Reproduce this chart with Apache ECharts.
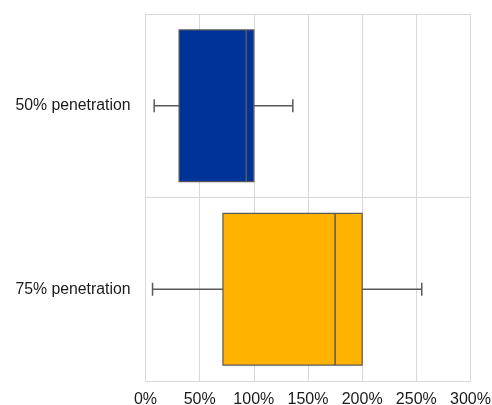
<!DOCTYPE html>
<html>
<head>
<meta charset="utf-8">
<script src="https://cdn.jsdelivr.net/npm/echarts@6/dist/echarts.min.js"></script>
<style>html,body{margin:0;padding:0;background:#fff;}#c{width:492px;height:405px;}</style>
</head>
<body>
<div id="c"></div>
<script>
const categories = ['50% penetration', '75% penetration'];
const whiskerLow = [8, 6.5];
const q1Vals = [31, 71.5];
const medianVals = [93, 175];
const q3Vals = [100, 200];
const whiskerHigh = [136, 255];
const boxColors = ['#003399', '#FFB300'];
const xTicks = [0, 50, 100, 150, 200, 250, 300];

const data = categories.map((c, i) => [i, whiskerLow[i], q1Vals[i], medianVals[i], q3Vals[i], whiskerHigh[i]]);

const chart = echarts.init(document.getElementById('c'));
chart.setOption({
  animation: false,
  grid: { left: 145.5, right: 21.5, top: 14, bottom: 24, outerBoundsMode: 'none', containLabel: false },
  xAxis: {
    type: 'value', min: xTicks[0], max: xTicks[xTicks.length - 1], interval: 50,
    axisLine: { show: true, lineStyle: { color: '#d9d9d9' } },
    axisTick: { show: false },
    splitLine: { show: true, lineStyle: { color: '#d9d9d9', width: 1 } },
    axisLabel: { formatter: v => v + '%', color: '#1a1a1a', fontSize: 16, fontFamily: 'Liberation Sans, Arial, sans-serif', margin: 11 }
  },
  yAxis: {
    type: 'category', data: categories, inverse: true,
    axisLine: { show: true, lineStyle: { color: '#d9d9d9' } },
    axisTick: { show: false },
    splitLine: { show: true, lineStyle: { color: '#d9d9d9', width: 1 } },
    axisLabel: { color: '#1a1a1a', fontSize: 15.8, fontFamily: 'Liberation Sans, Arial, sans-serif', margin: 15 }
  },
  series: [{
    type: 'custom',
    data: data,
    encode: { x: [1, 2, 3, 4, 5], y: 0 },
    renderItem: function (params, api) {
      const yi = api.value(0);
      const lo = api.coord([api.value(1), yi]);
      const a = api.coord([api.value(2), yi]);
      const m = api.coord([api.value(3), yi]);
      const b = api.coord([api.value(4), yi]);
      const hi = api.coord([api.value(5), yi]);
      const band = api.size([0, 1])[1];
      const h = band * 0.826;
      const cy = a[1];
      const cap = 6.5;
      const stroke = { stroke: '#595959', lineWidth: 1.5 };
      return {
        type: 'group',
        children: [
          { type: 'line', shape: { x1: lo[0], y1: cy, x2: a[0], y2: cy }, style: stroke },
          { type: 'line', shape: { x1: b[0], y1: cy, x2: hi[0], y2: cy }, style: stroke },
          { type: 'line', shape: { x1: lo[0], y1: cy - cap, x2: lo[0], y2: cy + cap }, style: stroke },
          { type: 'line', shape: { x1: hi[0], y1: cy - cap, x2: hi[0], y2: cy + cap }, style: stroke },
          { type: 'rect', shape: { x: a[0], y: cy - h / 2, width: b[0] - a[0], height: h },
            style: { fill: boxColors[params.dataIndex], stroke: '#595959', lineWidth: 1.2 } },
          { type: 'line', shape: { x1: m[0], y1: cy - h / 2, x2: m[0], y2: cy + h / 2 }, style: { stroke: '#595959', lineWidth: 1.5 } }
        ]
      };
    }
  }]
});
</script>
</body>
</html>
